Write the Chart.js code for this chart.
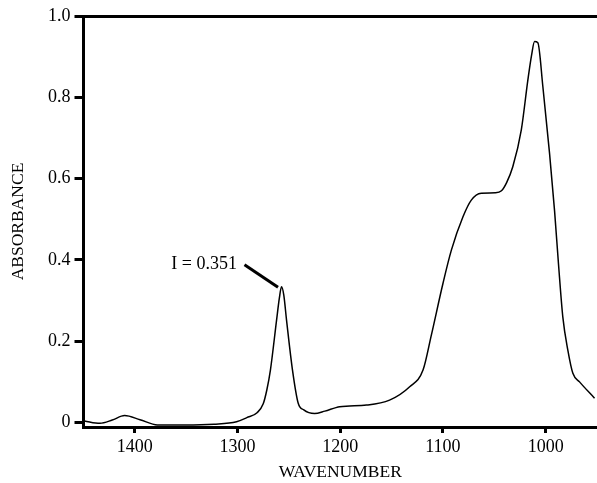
<!DOCTYPE html>
<html>
<head>
<meta charset="utf-8">
<script src="https://cdn.jsdelivr.net/npm/chart.js@4"></script>
<style>
    html, body { margin: 0; padding: 0; background: #fff; }
    #wrap { width: 597px; height: 483px; }
</style>
</head>
<body>
<div id="wrap"><canvas id="spectrum" width="597" height="483"></canvas></div>
<script>
const wavenumbers = [1449, 1434, 1422, 1410, 1395, 1378, 1351, 1323, 1301, 1291, 1281, 1275, 1271.5, 1268, 1262, 1259.3, 1257.2, 1255, 1252.3, 1246.5, 1241, 1235.5, 1225, 1215, 1200.5, 1174.5, 1152, 1132.4, 1119.4, 1111.3, 1100, 1091.8, 1080.5, 1072.4, 1062.7, 1049, 1043, 1038, 1032, 1023.7, 1017.3, 1013.7, 1010.8, 1007.6, 1002.7, 996.2, 991.3, 987.5, 983.3, 978.4, 973.5, 967, 952.4];
const absorbance = [0.004, -0.002, 0.006, 0.017, 0.007, -0.006, -0.006, -0.004, 0.002, 0.012, 0.024, 0.046, 0.080, 0.129, 0.252, 0.306, 0.334, 0.314, 0.252, 0.129, 0.048, 0.031, 0.022, 0.028, 0.039, 0.043, 0.055, 0.088, 0.129, 0.215, 0.342, 0.424, 0.506, 0.547, 0.564, 0.565, 0.570, 0.590, 0.629, 0.720, 0.843, 0.904, 0.937, 0.934, 0.826, 0.662, 0.520, 0.390, 0.260, 0.178, 0.121, 0.100, 0.060];
const xTicks = [1400, 1300, 1200, 1100, 1000];
const yTicks = [0, 0.2, 0.4, 0.6, 0.8, 1.0];
const peakLabel = "I = 0.351";

const serif = "'Liberation Serif', 'Times New Roman', serif";

// leader line + label pointing at the sharp band near 1257
const peakNote = {
    id: "peakNote",
    afterDatasetsDraw(chart) {
        const { ctx, scales } = chart;
        const i = absorbance.indexOf(Math.max(...absorbance.slice(0, 25)));
        const px = scales.x.getPixelForValue(wavenumbers[i]);
        const py = scales.y.getPixelForValue(absorbance[i]);
        ctx.save();
        ctx.strokeStyle = "#000";
        ctx.lineWidth = 3;
        ctx.beginPath();
        ctx.moveTo(px - 3.5, py + 0.5);
        ctx.lineTo(px - 37, py - 22);
        ctx.stroke();
        ctx.fillStyle = "#000";
        ctx.font = "18px " + serif;
        ctx.textAlign = "right";
        ctx.textBaseline = "middle";
        ctx.fillText(peakLabel, px - 44.5, py - 22.5);
        ctx.restore();
    }
};

new Chart(document.querySelector("#spectrum"), {
    type: "line",
    data: {
        datasets: [{
            data: wavenumbers.map((w, i) => ({ x: w, y: absorbance[i] })),
            borderColor: "#000",
            borderWidth: 1.5,
            pointRadius: 0,
            cubicInterpolationMode: "monotone",
            fill: false
        }]
    },
    options: {
        responsive: false,
        animation: false,
        layout: { padding: { top: 16, left: 0, right: 0, bottom: 0 } },
        plugins: { legend: { display: false }, tooltip: { enabled: false } },
        scales: {
            x: {
                type: "linear",
                reverse: true,
                min: 950,
                max: 1450,
                afterBuildTicks: (s) => { s.ticks = xTicks.map((v) => ({ value: v })); },
                afterFit: (s) => { s.height = 56; },
                ticks: {
                    color: "#000",
                    font: { family: serif, size: 18 },
                    padding: 3,
                    maxRotation: 0,
                    callback: (v) => String(v)
                },
                grid: { drawOnChartArea: false, tickLength: 6, tickWidth: 3, color: "#000" },
                border: { color: "#000", width: 3 },
                title: { display: true, text: "WAVENUMBER", color: "#000", font: { family: serif, size: 17.5 }, padding: { top: 0, bottom: 0 } }
            },
            x2: {
                type: "linear",
                position: "top",
                min: 950,
                max: 1450,
                afterFit: (s) => { s.height = 0; },
                ticks: { display: false },
                grid: { display: false },
                border: { color: "#000", width: 3 }
            },
            y: {
                min: -0.011,
                max: 1.0,
                afterBuildTicks: (s) => { s.ticks = yTicks.map((v) => ({ value: v })); },
                afterFit: (s) => { s.width = 83.5; },
                ticks: {
                    color: "#000",
                    font: { family: serif, size: 18 },
                    padding: 4,
                    callback: (v) => (v === 0 ? "0" : v.toFixed(1))
                },
                grid: { drawOnChartArea: false, tickLength: 9, tickWidth: 3, color: "#000" },
                border: { color: "#000", width: 3 },
                title: { display: true, text: "ABSORBANCE", color: "#000", font: { family: serif, size: 17.5 }, padding: { top: 8, bottom: 0 } }
            }
        }
    },
    plugins: [peakNote]
});
</script>
</body>
</html>
